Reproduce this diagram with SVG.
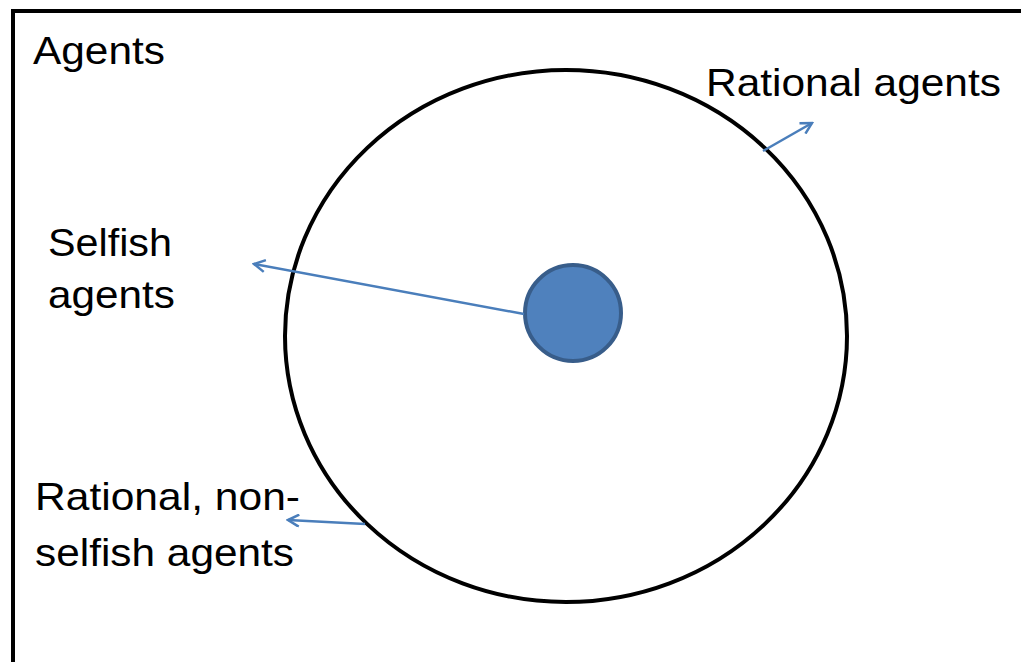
<svg xmlns="http://www.w3.org/2000/svg" width="1021" height="662" viewBox="0 0 1021 662">
<style>
text{font-family:"Liberation Sans",Arial,sans-serif;font-size:39px;fill:#000}
.arr{stroke:#4a7ebb;stroke-width:2.5;fill:none}
</style>
<defs>
<marker id="ah" markerWidth="14" markerHeight="14" refX="12" refY="7" orient="auto" markerUnits="userSpaceOnUse">
<path d="M1,1 L12,7 L1,13" fill="none" stroke="#4a7ebb" stroke-width="2.5"/>
</marker>
</defs>
<rect x="0" y="0" width="1021" height="662" fill="#fff"/>
<g id="agents">
<rect x="13" y="11" width="1030" height="680" fill="none" stroke="#000" stroke-width="4"/>
<text x="33" y="64" textLength="132" lengthAdjust="spacingAndGlyphs">Agents</text>
</g>
<g id="rational">
<ellipse cx="566" cy="336" rx="281" ry="266" fill="none" stroke="#000" stroke-width="4"/>
<text x="706" y="96" textLength="295" lengthAdjust="spacingAndGlyphs">Rational agents</text>
</g>
<g id="selfish">
<circle cx="573" cy="313" r="48" fill="#4f81bd" stroke="#385d8a" stroke-width="4"/>
<text x="48" y="256" textLength="124" lengthAdjust="spacingAndGlyphs">Selfish</text>
<text x="48" y="308" textLength="127" lengthAdjust="spacingAndGlyphs">agents</text>
</g>
<g id="nonselfish">
<text x="35" y="510" textLength="265" lengthAdjust="spacingAndGlyphs">Rational, non-</text>
<text x="35" y="566" textLength="259" lengthAdjust="spacingAndGlyphs">selfish agents</text>
</g>
<g id="connectors">
<line class="arr" x1="763" y1="151" x2="812" y2="123" marker-end="url(#ah)"/>
<line class="arr" x1="524" y1="314" x2="254" y2="264" marker-end="url(#ah)"/>
<line class="arr" x1="365" y1="524" x2="288" y2="520" marker-end="url(#ah)"/>
</g>
</svg>
